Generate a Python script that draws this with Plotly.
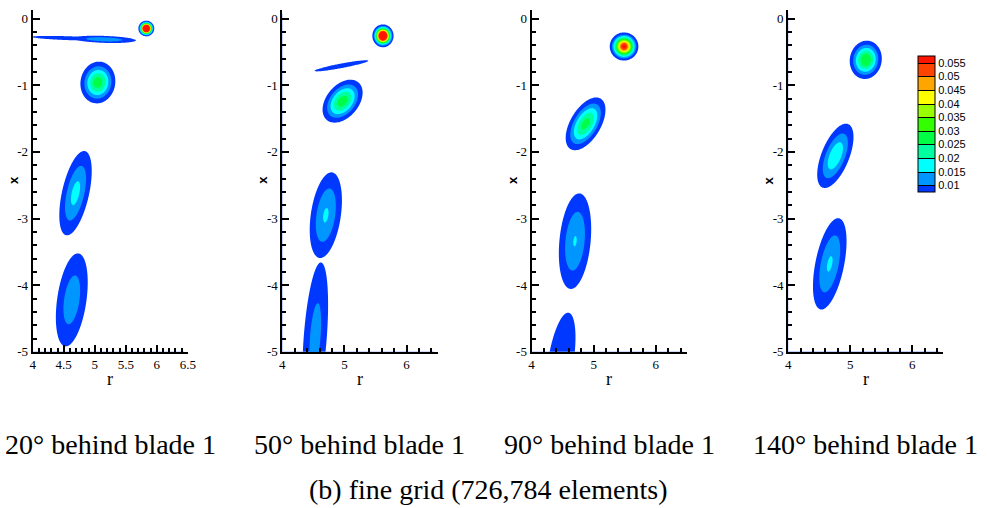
import numpy as np
import plotly.graph_objects as go

# ---------------- data ----------------
level_start, level_end, level_step = 0.01, 0.055, 0.005
mask_level = 0.005
band_colors = ['#0038ff', '#0096ff', '#00ffff', '#00ffa0', '#00ff44', '#33ff00',
               '#99ff00', '#ffff00', '#ffa500', '#ff4400', '#ff1400']
cbar_ticks = [0.01, 0.015, 0.02, 0.025, 0.03, 0.035, 0.04, 0.045, 0.05, 0.055]
cbar_labels = ['0.01', '0.015', '0.02', '0.025', '0.03', '0.035', '0.04', '0.045', '0.05', '0.055']

panel_titles = ['20\u00b0 behind blade 1', '50\u00b0 behind blade 1',
                '90\u00b0 behind blade 1', '140\u00b0 behind blade 1']
caption = '(b) fine grid (726,784 elements)'

y_tickvals = [0, -1, -2, -3, -4, -5]
y_ticktext = ['0', '-1', '-2', '-3', '-4', '-5']
x1_tickvals = [4, 4.5, 5, 5.5, 6, 6.5]
x1_ticktext = ['4', '4.5', '5', '5.5', '6', '6.5']
x_tickvals = [4, 5, 6]
x_ticktext = ['4', '5', '6']

# vortex blobs: centre r, centre x, peak value, spread along / across, tilt (deg from x axis)
p1_r = [5.83, 4.60, 5.15, 5.05, 4.69, 4.63]
p1_x = [-0.15, -0.296, -0.313, -0.96, -2.62, -4.22]
p1_pk = [0.100, 0.008, 0.014, 0.028, 0.0165, 0.013]
p1_su = [0.048, 0.65, 0.36, 0.17, 0.42, 0.51]
p1_sv = [0.052, 0.030, 0.036, 0.15, 0.14, 0.17]
p1_tilt = [0, 91.8, 91.8, 15, 13.8, 8.9]

p2_r = [5.62, 4.95, 4.97, 4.70, 4.53]
p2_x = [-0.26, -0.71, -1.24, -2.95, -4.78]
p2_pk = [0.083, 0.008, 0.028, 0.0155, 0.012]
p2_su = [0.072, 0.46, 0.205, 0.432, 0.85]
p2_sv = [0.072, 0.035, 0.135, 0.16, 0.14]
p2_tilt = [0, 80, 45, 9.2, 4.7]

p3_r = [5.49, 4.87, 4.70, 4.47]
p3_x = [-0.42, -1.58, -3.34, -5.15]
p3_pk = [0.058, 0.027, 0.0152, 0.0095]
p3_su = [0.095, 0.245, 0.483, 0.66]
p3_sv = [0.104, 0.13, 0.168, 0.18]
p3_tilt = [0, 34, 6, 9.8]

p4_r = [5.25, 4.76, 4.67]
p4_x = [-0.62, -2.06, -3.68]
p4_pk = [0.030, 0.019, 0.0155]
p4_su = [0.153, 0.318, 0.465]
p4_sv = [0.135, 0.135, 0.153]
p4_tilt = [15, 24, 12.4]

panels = [
    (p1_r, p1_x, p1_pk, p1_su, p1_sv, p1_tilt),
    (p2_r, p2_x, p2_pk, p2_su, p2_sv, p2_tilt),
    (p3_r, p3_x, p3_pk, p3_su, p3_sv, p3_tilt),
    (p4_r, p4_x, p4_pk, p4_su, p4_sv, p4_tilt),
]

# ---------------- field on a grid ----------------
r_main = np.round(np.arange(3.95, 6.455, 0.015), 4)
x_main = np.round(np.arange(-5.25, 0.085, 0.015), 4)
r_mask = np.round(np.arange(3.95, 6.62, 0.015), 4)
x_mask = np.round(np.arange(-5.25, 0.32, 0.015), 4)


def field(rg, xg, br, bx, bp, bsu, bsv, bang):
    R, X = np.meshgrid(rg, xg)
    Z = np.zeros_like(R)
    for r0, x0, p, su, sv, a in zip(br, bx, bp, bsu, bsv, bang):
        t = np.deg2rad(a)
        dr, dx = R - r0, X - x0
        u = dr * np.sin(t) + dx * np.cos(t)
        v = dr * np.cos(t) - dx * np.sin(t)
        Z = np.maximum(Z, p * np.exp(-0.5 * (u / su) ** 2 - 0.5 * (v / sv) ** 2))
    Z[Z < 1e-4] = 0.0
    return np.round(Z, 5)


colorscale = [[i / (len(band_colors) - 1), c] for i, c in enumerate(band_colors)]
contour_levels = dict(start=level_start, end=level_end, size=level_step, coloring='fill')

W, H = 987, 508
ax_left_px = [30, 282.5, 534.5, 794]
ax_width_px = 157
y_bottom_px, y_top_px = 357.5, 10

fig = go.Figure()
for k, blobs in enumerate(panels):
    Z = field(r_main, x_main, *blobs)
    Zm = field(r_mask, x_mask, *blobs)
    xa = 'x' if k == 0 else f'x{k+1}'
    ya = 'y' if k == 0 else f'y{k+1}'
    if k == 3:
        # colour legend (drawn underneath, fully hidden by the filled contour on top)
        fig.add_trace(go.Contour(
            x=r_main, y=x_main, z=Z, xaxis=xa, yaxis=ya, autocontour=False,
            contours=dict(showlines=True, **contour_levels),
            colorscale=colorscale, line=dict(width=1, color='black'),
            showscale=True, hoverinfo='skip',
            colorbar=dict(thickness=17, thicknessmode='pixels',
                          len=136, lenmode='pixels',
                          x=925 / W, xanchor='left', y=(H - 57) / H, yanchor='top',
                          xpad=0, ypad=0, outlinewidth=1, outlinecolor='black',
                          tickmode='array', tickvals=cbar_ticks, ticktext=cbar_labels,
                          ticks='', tickfont=dict(family='Liberation Sans', size=11, color='black')),
        ))
    fig.add_trace(go.Contour(
        x=r_main, y=x_main, z=Z, xaxis=xa, yaxis=ya, autocontour=False,
        contours=dict(showlines=False, **contour_levels),
        colorscale=colorscale, line=dict(width=0),
        showscale=False, hoverinfo='skip',
    ))
    fig.add_trace(go.Contour(
        x=r_mask, y=x_mask, z=Zm, xaxis=xa, yaxis=ya,
        contours=dict(type='constraint', operation='>', value=mask_level),
        fillcolor='white', line=dict(width=0), showscale=False, hoverinfo='skip',
    ))

layout = dict(width=W, height=H, margin=dict(l=0, r=0, t=0, b=0),
              paper_bgcolor='white', plot_bgcolor='white', showlegend=False)

tickfont = dict(family='Liberation Serif', size=13, color='black')
annotations = []
for k in range(4):
    xa = 'xaxis' if k == 0 else f'xaxis{k+1}'
    ya = 'yaxis' if k == 0 else f'yaxis{k+1}'
    yname = 'y' if k == 0 else f'y{k+1}'
    xname = 'x' if k == 0 else f'x{k+1}'
    l = ax_left_px[k]
    layout[xa] = dict(domain=[l / W, (l + ax_width_px) / W], range=[4, 6.5], anchor=yname,
                      showgrid=False, zeroline=False, showline=True, linewidth=2, linecolor='black',
                      ticks='inside', ticklen=7, tickwidth=2, tickcolor='black',
                      tickmode='array',
                      tickvals=x1_tickvals if k == 0 else x_tickvals,
                      ticktext=x1_ticktext if k == 0 else x_ticktext,
                      minor=dict(tickmode='linear', tick0=4, dtick=0.1 if k == 0 else 0.2,
                                 ticks='inside', ticklen=4, tickwidth=1.5, tickcolor='black'),
                      tickfont=tickfont)
    layout[ya] = dict(domain=[(H - y_bottom_px) / H, (H - y_top_px) / H], range=[-5, 0.13],
                      anchor=xname,
                      showgrid=False, zeroline=False, showline=True, linewidth=2, linecolor='black',
                      ticks='inside', ticklen=7, tickwidth=2, tickcolor='black',
                      tickmode='array', tickvals=y_tickvals, ticktext=y_ticktext,
                      minor=dict(tickmode='linear', tick0=0, dtick=0.2,
                                 ticks='inside', ticklen=4, tickwidth=1.5, tickcolor='black'),
                      tickfont=tickfont)
    annotations.append(dict(text='<b>x</b>', x=(l - 20) / W, y=(H - 183) / H, xref='paper', yref='paper',
                            xanchor='center', yanchor='middle',
                            showarrow=False, textangle=-90,
                            font=dict(family='Liberation Sans', size=13, color='black')))
    annotations.append(dict(text='r', x=(l + ax_width_px / 2) / W, y=(H - 385) / H, xref='paper',
                            yref='paper', showarrow=False, xanchor='center', yanchor='middle',
                            font=dict(family='Liberation Serif', size=18, color='black')))
    annotations.append(dict(text=panel_titles[k], x=(l + ax_width_px / 2) / W, y=(H - 452) / H,
                            xref='paper', yref='paper', showarrow=False,
                            xanchor='center', yanchor='middle',
                            font=dict(family='Liberation Serif', size=28, color='black')))
annotations.append(dict(text=caption, x=490 / W, y=(H - 497) / H, xref='paper', yref='paper',
                        showarrow=False, xanchor='center', yanchor='middle',
                        font=dict(family='Liberation Serif', size=28, color='black')))
layout['annotations'] = annotations
fig.update_layout(**layout)
fig.write_html('out.html')
